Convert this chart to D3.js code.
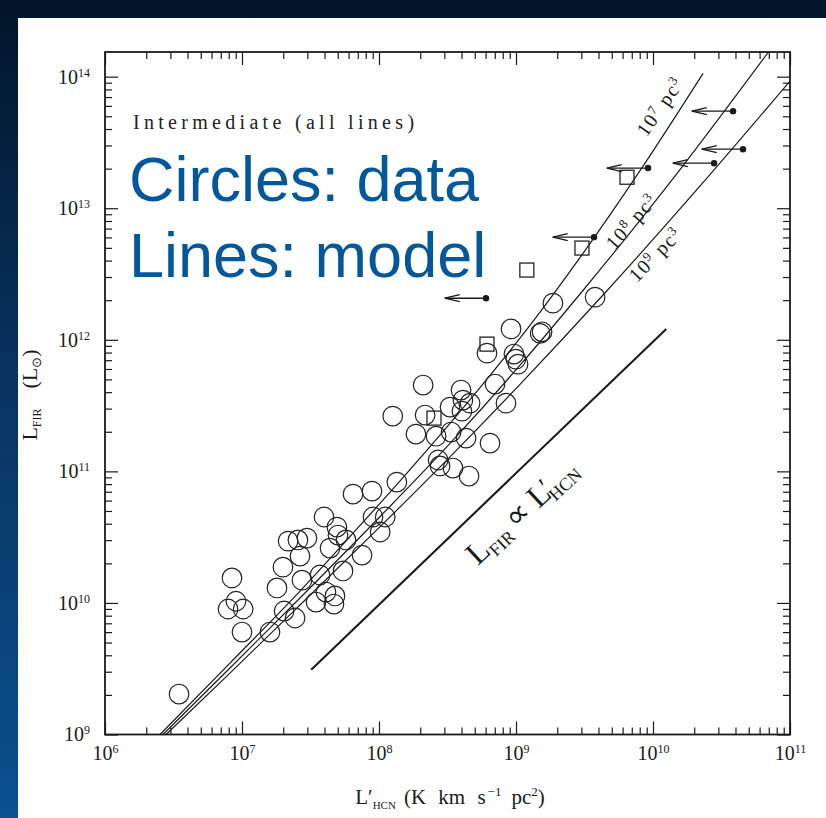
<!DOCTYPE html>
<html><head><meta charset="utf-8">
<script src="https://cdn.jsdelivr.net/npm/d3@7"></script>
<style>html,body{margin:0;padding:0;background:#fff}svg{display:block}</style>
</head><body>
<svg id="chart" width="826" height="818"></svg>
<script>
// L'HCN (K km s^-1 pc^2) against L_FIR (L_sun): galaxies and three density models

const xDomain = [1e6, 1e11];
const yDomain = [1e9, 1.54e14];
const xDecades = [1e6, 1e7, 1e8, 1e9, 1e10, 1e11];
const yDecades = [1e9, 1e10, 1e11, 1e12, 1e13, 1e14];

// observed galaxies [L'HCN, L_FIR]
const galaxies = [
  [3.47e6, 2.03e9], [8.45e6, 1.55e10], [9.04e6, 1.03e10], [7.91e6, 8.99e9],
  [1.02e7, 8.99e9], [1.0e7, 6.01e9], [1.60e7, 6.01e9], [2.03e7, 8.68e9],
  [2.44e7, 7.68e9], [1.80e7, 1.30e10], [1.99e7, 1.87e10], [2.17e7, 2.95e10],
  [2.56e7, 3.01e10], [2.98e7, 3.11e10], [2.65e7, 2.27e10], [2.74e7, 1.49e10],
  [3.71e7, 1.63e10], [3.47e7, 1.016e10], [4.10e7, 1.21e10], [4.77e7, 1.13e10],
  [4.69e7, 9.81e9], [5.46e7, 1.75e10], [4.39e7, 2.61e10], [3.97e7, 4.50e10],
  [4.93e7, 3.77e10], [5.02e7, 3.28e10], [5.74e7, 3.01e10], [7.52e7, 2.31e10],
  [6.46e7, 6.72e10], [8.89e7, 7.08e10], [9.04e7, 4.50e10], [1.02e8, 3.46e10],
  [1.11e8, 4.50e10], [1.35e8, 8.29e10], [2.10e8, 4.53e11], [1.26e8, 2.63e11],
  [2.17e8, 2.68e11], [1.86e8, 1.92e11], [2.61e8, 1.85e11], [3.30e8, 3.08e11],
  [3.97e8, 4.15e11], [4.10e8, 3.48e11], [4.62e8, 3.30e11], [4.03e8, 2.87e11],
  [3.36e8, 1.99e11], [4.32e8, 1.79e11], [2.70e8, 1.22e11], [2.79e8, 1.10e11],
  [3.47e8, 1.06e11], [4.54e8, 9.21e10], [6.46e8, 1.64e11], [7.03e8, 4.61e11],
  [8.45e8, 3.30e11], [6.14e8, 7.92e11], [9.20e8, 1.21e12], [9.66e8, 7.79e11],
  [9.98e8, 7.13e11], [1.035e9, 6.53e11], [1.50e9, 1.12e12], [1.55e9, 1.15e12],
  [1.86e9, 1.90e12], [3.78e9, 2.11e12]
];

// additional sample (open squares)
const squareSources = [
  [2.52e8, 2.54e11], [6.14e8, 9.27e11], [1.20e9, 3.39e12],
  [3.03e9, 4.98e12], [6.46e9, 1.72e13]
];

// upper limits on L'HCN (dot with left arrow to half the value)
const upperLimits = [
  [6.04e8, 2.07e12], [3.71e9, 6.03e12], [9.20e9, 2.02e13],
  [3.84e10, 5.47e13], [4.54e10, 2.81e13], [2.79e10, 2.20e13]
];

// model curves for mean cloud densities
const model7 = [
  [2.52e6, 1.0e9], [8.17e6, 3.49e9], [2.65e7, 1.23e10], [6.14e7, 3.20e10],
  [1.42e8, 8.43e10], [5.46e8, 4.33e11], [1.26e9, 1.28e12], [2.93e9, 4.21e12],
  [8.04e9, 1.93e13], [2.32e10, 1.06e14]
];
const model8 = [
  [2.65e6, 1.0e9], [8.17e6, 3.20e9], [2.65e7, 1.09e10], [1.02e8, 4.54e10],
  [3.30e8, 1.63e11], [1.07e9, 6.41e11], [3.08e9, 2.37e12], [1.57e10, 1.96e13],
  [6.90e10, 1.52e14]
];
const model9 = [
  [2.79e6, 1.0e9], [8.17e6, 2.93e9], [2.65e7, 9.64e9], [1.02e8, 3.80e10],
  [3.30e8, 1.29e11], [1.07e9, 4.59e11], [4.32e9, 2.19e12], [2.20e10, 1.47e13],
  [1.0e11, 9.25e13]
];
const modelDensities = ["7", "8", "9"];

// linear relation L_FIR ∝ L'HCN
const linearRelation = [[3.2e7, 3.1e9], [1.25e10, 1.21e12]];

const svg = d3.select("#chart");
const W = 826, H = 818;
const frame = {left: 105, right: 790, top: 52, bottom: 734.5};
const ink = "#1a1a1a";
const serif = "'Liberation Serif','Times New Roman',serif";

// backdrop
const defs = svg.append("defs");
const grad = defs.append("linearGradient").attr("id", "bg").attr("x1", 0).attr("y1", 0).attr("x2", 0).attr("y2", 1);
grad.append("stop").attr("offset", "0%").attr("stop-color", "#021529");
grad.append("stop").attr("offset", "45%").attr("stop-color", "#08325f");
grad.append("stop").attr("offset", "100%").attr("stop-color", "#0b5190");
svg.append("rect").attr("width", W).attr("height", H).attr("fill", "url(#bg)");
svg.append("rect").attr("x", 18).attr("y", 18).attr("width", W - 18).attr("height", H - 18).attr("fill", "#fff");

const x = d3.scaleLog().domain(xDomain).range([frame.left, frame.right]);
const y = d3.scaleLog().domain(yDomain).range([frame.bottom, frame.top]);

function minorTicks(scale) {
  const [a, b] = scale.domain();
  const out = [];
  for (let e = Math.floor(Math.log10(a)); e <= Math.ceil(Math.log10(b)); e++) {
    for (let k = 2; k <= 9; k++) {
      const v = k * Math.pow(10, e);
      if (v > a && v < b) out.push(v);
    }
  }
  return out;
}

function powerLabel(sel) {
  sel.selectAll(".tick text").each(function(d) {
    const t = d3.select(this);
    t.text(null);
    t.append("tspan").text("10");
    t.append("tspan").attr("dy", -7).attr("font-size", 12).text(Math.round(Math.log10(d)));
  });
}

const axes = svg.append("g").attr("fill", "none");
function axis(gen, scale, tr, major, labelled, pad) {
  const majorAxis = gen(scale).tickValues(major).tickSizeInner(-13).tickSizeOuter(0)
    .tickPadding(pad || 0).tickFormat(labelled ? d => String(d) : () => "");
  const minorAxis = gen(scale).tickValues(minorTicks(scale)).tickSizeInner(-7).tickSizeOuter(0).tickFormat(() => "");
  const g1 = axes.append("g").attr("transform", tr).call(majorAxis);
  const g2 = axes.append("g").attr("transform", tr).call(minorAxis);
  [g1, g2].forEach(g => {
    g.select(".domain").remove();
    g.selectAll(".tick line").attr("stroke", ink).attr("stroke-width", 1.2);
    g.selectAll(".tick text").attr("fill", ink).attr("font-family", serif).attr("font-size", 20);
  });
  if (labelled) powerLabel(g1);
  return g1;
}
axis(d3.axisBottom, x, `translate(0,${frame.bottom})`, xDecades, true, 11);
axis(d3.axisTop, x, `translate(0,${frame.top})`, xDecades, false);
axis(d3.axisLeft, y, `translate(${frame.left},0)`, yDecades.filter(v => v <= yDomain[1]), true, 15);
axis(d3.axisRight, y, `translate(${frame.right},0)`, yDecades.filter(v => v <= yDomain[1]), false);

svg.append("rect")
  .attr("x", frame.left).attr("y", frame.top)
  .attr("width", frame.right - frame.left).attr("height", frame.bottom - frame.top)
  .attr("fill", "none").attr("stroke", ink).attr("stroke-width", 1.8);

// plotting area
defs.append("clipPath").attr("id", "plotclip").append("rect")
  .attr("x", frame.left).attr("y", frame.top)
  .attr("width", frame.right - frame.left).attr("height", frame.bottom - frame.top);
const plot = svg.append("g").attr("clip-path", "url(#plotclip)");

const line = d3.line().x(d => x(d[0])).y(d => y(d[1])).curve(d3.curveMonotoneX);
[model7, model8, model9].forEach(m => {
  plot.append("path").attr("d", line(m)).attr("fill", "none").attr("stroke", ink).attr("stroke-width", 1.2);
});
plot.append("path").attr("d", d3.line().x(d => x(d[0])).y(d => y(d[1]))(linearRelation))
  .attr("fill", "none").attr("stroke", ink).attr("stroke-width", 2.1);

plot.append("g").selectAll("circle").data(galaxies).join("circle")
  .attr("cx", d => x(d[0])).attr("cy", d => y(d[1])).attr("r", 9.8)
  .attr("fill", "none").attr("stroke", "#222").attr("stroke-width", 1.2);

plot.append("g").selectAll("rect").data(squareSources).join("rect")
  .attr("x", d => x(d[0]) - 7).attr("y", d => y(d[1]) - 7).attr("width", 14).attr("height", 14)
  .attr("fill", "none").attr("stroke", "#222").attr("stroke-width", 1.3);

const lim = plot.append("g").selectAll("g").data(upperLimits).join("g");
lim.append("line")
  .attr("x1", d => x(d[0])).attr("x2", d => x(d[0] / 2))
  .attr("y1", d => y(d[1])).attr("y2", d => y(d[1]))
  .attr("stroke", ink).attr("stroke-width", 1.3);
lim.append("path")
  .attr("d", d => {
    const tx = x(d[0] / 2), ty = y(d[1]);
    return `M${tx + 15},${ty - 3.5}L${tx},${ty}L${tx + 15},${ty + 3.5}`;
  })
  .attr("fill", "none").attr("stroke", ink).attr("stroke-width", 1.3);
lim.append("circle").attr("cx", d => x(d[0])).attr("cy", d => y(d[1])).attr("r", 3.2).attr("fill", ink);

// density labels along the model curves
const labelSpots = [
  {at: [1.14e10, 5.87e13], angle: -55},
  {at: [7.03e9, 7.84e12], angle: -48.5},
  {at: [1.05e10, 4.40e12], angle: -46}
];
modelDensities.forEach((dens, i) => {
  const s = labelSpots[i];
  const t = svg.append("text")
    .attr("transform", `translate(${x(s.at[0])},${y(s.at[1])}) rotate(${s.angle})`)
    .attr("text-anchor", "middle").attr("font-family", serif).attr("font-size", 20)
    .attr("letter-spacing", 1.4).attr("fill", ink);
  t.append("tspan").attr("dy", 6).text("10");
  t.append("tspan").attr("dy", -7).attr("font-size", 13).text(dens);
  t.append("tspan").attr("dy", 7).text(" pc");
  t.append("tspan").attr("dy", -7).attr("font-size", 13).text("3");
});

// label for the linear relation
const rel = svg.append("text")
  .attr("transform", `translate(523,513) rotate(-43)`)
  .attr("text-anchor", "middle").attr("font-family", serif).attr("fill", ink);
rel.append("tspan").attr("font-size", 32).attr("dy", 8).text("L");
rel.append("tspan").attr("font-size", 18).attr("dy", 6).text("FIR");
rel.append("tspan").attr("font-size", 32).attr("dy", -6).attr("dx", 5).text("∝ L");
rel.append("tspan").attr("font-size", 26).attr("dy", -4).attr("dx", -2).text("′");
rel.append("tspan").attr("font-size", 18).attr("dy", 10).attr("dx", -6).text("HCN");

// axis titles
const xt = svg.append("text").attr("transform", "translate(450,804)")
  .attr("text-anchor", "middle").attr("font-family", serif).attr("font-size", 21)
  .attr("fill", ink).attr("word-spacing", 7);
xt.append("tspan").text("L′");
xt.append("tspan").attr("font-size", 11).attr("dy", 5).attr("dx", 0).text("HCN");
xt.append("tspan").attr("dy", -5).attr("dx", 8).text("(K km s");
xt.append("tspan").attr("font-size", 13).attr("dy", -8).attr("dx", 2).text("−1");
xt.append("tspan").attr("dy", 8).attr("dx", 10).text("pc");
xt.append("tspan").attr("font-size", 13).attr("dy", -8).text("2");
xt.append("tspan").attr("dy", 8).text(")");

const yt = svg.append("text").attr("transform", "translate(37,395) rotate(-90)")
  .attr("text-anchor", "middle").attr("font-family", serif).attr("font-size", 22).attr("fill", ink);
yt.append("tspan").text("L");
yt.append("tspan").attr("font-size", 12).attr("dy", 4).text("FIR");
yt.append("tspan").attr("dy", -4).attr("dx", 20).text("(L");
yt.append("tspan").attr("font-size", 13).attr("dy", 4).text("⊙");
yt.append("tspan").attr("dy", -4).text(")");

// panel annotations
svg.append("text").attr("x", 133).attr("y", 129)
  .attr("font-family", serif).attr("font-size", 20).attr("letter-spacing", 4.3)
  .attr("fill", "#222").text("Intermediate (all lines)");
const blue = "#03589c";
svg.append("text").attr("x", 129).attr("y", 201)
  .attr("font-family", "'Liberation Sans',Arial,sans-serif").attr("font-size", 63)
  .attr("fill", blue).text("Circles: data");
svg.append("text").attr("x", 129).attr("y", 277)
  .attr("font-family", "'Liberation Sans',Arial,sans-serif").attr("font-size", 63)
  .attr("fill", blue).text("Lines: model");
</script>
</body></html>
